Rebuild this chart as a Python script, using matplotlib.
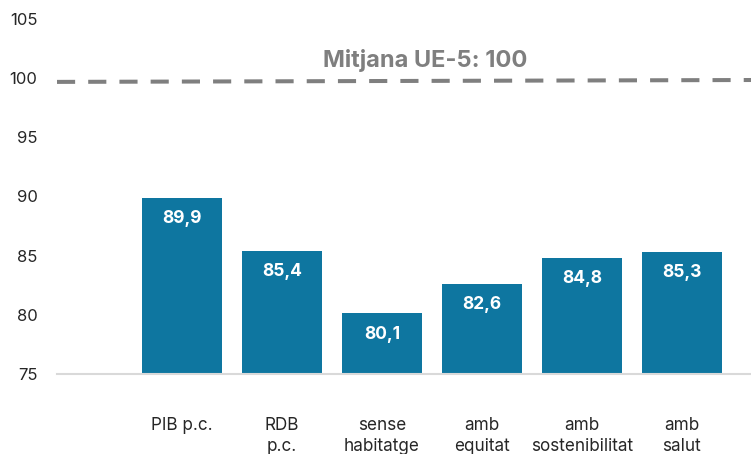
import matplotlib
matplotlib.use("Agg")
import matplotlib.pyplot as plt

categories = ["PIB p.c.", "RDB\np.c.", "sense\nhabitatge", "amb\nequitat", "amb\nsostenibilitat", "amb\nsalut"]
values = [89.9, 85.4, 80.1, 82.6, 84.8, 85.3]
value_labels = ["89,9", "85,4", "80,1", "82,6", "84,8", "85,3"]
avg_line = [99.7, 99.86]
avg_label = "Mitjana UE-5: 100"
yticks = [75, 80, 85, 90, 95, 100, 105]

plt.rcParams['font.family'] = ['Inter', 'DejaVu Sans']

fig = plt.figure(figsize=(7.51, 4.54), dpi=100)
ax = fig.add_axes([0.0759, 0.177, 0.9241, 0.7805])

bar_color = "#0E76A0"
x = list(range(1, len(categories) + 1))
base = 75
ax.bar(x, [v - base for v in values], bottom=base, width=0.8, color=bar_color, zorder=2)

for xi, v, lab in zip(x, values, value_labels):
    ax.annotate(lab, (xi, v), xytext=(0, -9), textcoords="offset points",
                ha="center", va="top", color="white", fontsize=12.5, fontweight="bold")

xmin, xmax = -0.25, 6.69
ax.plot([xmin, xmax], avg_line, color="#7F7F7F", lw=2.9, linestyle=(0, (4.5, 3.25)),
        solid_capstyle="butt", dash_capstyle="butt", zorder=3, clip_on=False)
ax.text(3.43, 100.95, avg_label, ha="center", va="baseline", color="#7F7F7F",
        fontsize=17, fontweight="bold")

ax.set_xlim(xmin, xmax)
ax.set_ylim(75, 105)
ax.set_yticks(yticks)
ax.set_yticklabels([str(t) for t in yticks], fontsize=12, color="#262626")
ax.set_xticks(x)
ax.set_xticklabels(categories, fontsize=12.3, color="#262626", linespacing=1.35)
ax.tick_params(axis="both", length=0)
ax.tick_params(axis="y", pad=14)
ax.tick_params(axis="x", pad=31)
for s in ["top", "right", "left"]:
    ax.spines[s].set_visible(False)
ax.spines["bottom"].set_color("#D9D9D9")
ax.spines["bottom"].set_linewidth(1.5)

fig.savefig("out.png", dpi=100)
